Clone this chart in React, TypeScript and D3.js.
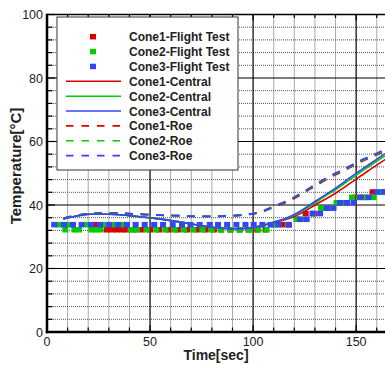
import React from 'react';
import * as d3 from 'd3';

const W = 385;
const H = 365;

// Axis domains and tick labels
const timeDomain = [0, 164];
const tempDomain = [0, 100];
const timeTickLabels = [0, 50, 100, 150];
const tempTickLabels = [0, 20, 40, 60, 80, 100];
const timeMinorStep = 10;
const tempMinorStep = 4;

// Flight test measurements (sec, °C)
const cone1Time = [23.3, 29, 31.5, 34, 36.5, 38.6, 42, 45.8, 50, 54.5, 59, 63.5, 68, 72.7, 77, 81, 84.5, 89, 93.5, 97.8, 102, 106, 110, 114, 117.4, 121.5, 125.5, 129.5, 133.5, 137.5, 141.5, 145.5, 149.5, 153.5, 158, 162.5];
const cone1Temp = [33.8, 32.2, 32.2, 32.2, 32.2, 32.2, 32.2, 32.2, 32.2, 32.2, 32.2, 32.2, 32.2, 32.2, 32.2, 32.2, 32.2, 32.2, 32.2, 32.2, 32.2, 32.2, 33.8, 33.8, 33.8, 35.5, 37.3, 37.3, 39.0, 39.0, 40.7, 40.7, 42.4, 42.4, 44.1, 44.1];

const cone2Time = [5.8, 8.9, 10.2, 13.3, 15.5, 19.5, 21.5, 23.7, 25.9, 28, 32.3, 36.6, 40.6, 43.6, 48.3, 53, 57.5, 62, 66.5, 71, 75.5, 80, 84.5, 89, 93.5, 98, 102.5, 106.5, 111, 117, 121, 125, 129, 133, 137, 140.5, 144, 148, 151.5, 155, 158.5, 162];
const cone2Temp = [33.8, 32.2, 33.8, 32.2, 32.2, 33.8, 32.2, 32.2, 32.2, 33.8, 33.8, 33.8, 32.2, 32.2, 32.2, 32.2, 32.2, 32.2, 32.2, 32.2, 32.2, 32.2, 32.2, 32.2, 32.2, 32.2, 32.2, 32.2, 33.8, 33.8, 35.5, 35.5, 37.3, 39.0, 39.0, 40.7, 40.7, 42.4, 42.4, 42.4, 42.4, 44.1];

const cone3Time = [3.5, 8.3, 12.6, 16.8, 21.4, 25.7, 30.1, 34.5, 38.8, 43, 47.4, 52, 56.3, 61, 65.5, 69.6, 74.1, 79, 83, 87.4, 91.9, 96.3, 100.3, 104.5, 108.5, 112.3, 117.2, 122.8, 126, 128.8, 132.5, 135.8, 139, 142.2, 145.5, 148.7, 152, 156, 160, 163.3];
const cone3Temp = [33.8, 33.8, 33.8, 33.8, 33.8, 33.8, 33.8, 33.8, 33.8, 33.8, 33.8, 33.8, 33.8, 33.8, 33.8, 33.8, 33.8, 33.8, 33.8, 33.8, 33.8, 33.8, 33.8, 33.8, 33.8, 33.8, 33.8, 35.5, 35.5, 37.3, 37.3, 39.0, 39.0, 40.7, 40.7, 40.7, 42.4, 42.4, 44.1, 44.1];

// Central scheme simulation
const centralTime = [8, 15, 21, 30, 38, 45, 53, 61, 68, 74, 80, 87, 93, 100, 105, 110, 115, 120, 125, 130, 135, 140, 147, 155, 164];
const cone1Central = [35.6, 36.6, 37.1, 37.1, 36.8, 36.3, 35.7, 35.0, 34.3, 33.6, 33.0, 32.6, 32.5, 32.9, 33.6, 34.5, 35.3, 36.4, 38.0, 40.0, 41.8, 43.7, 46.8, 50.4, 54.3];
const cone2Central = [35.6, 36.6, 37.1, 37.1, 36.8, 36.3, 35.7, 35.0, 34.3, 33.6, 33.0, 32.6, 32.5, 32.9, 33.6, 34.6, 35.5, 36.8, 38.6, 40.7, 42.8, 44.8, 48.0, 51.6, 55.5];
const cone3Central = [35.6, 36.6, 37.1, 37.1, 36.8, 36.3, 35.7, 35.0, 34.3, 33.6, 33.0, 32.6, 32.5, 32.9, 33.6, 34.6, 35.6, 37.0, 38.9, 41.1, 43.2, 45.3, 48.6, 52.2, 56.2];

// Roe scheme simulation
const roeTime = [8, 15, 25, 35, 45, 55, 65, 75, 85, 92, 97, 100, 105, 110, 118, 124, 131, 138, 145, 152, 160, 164];
const cone1Roe = [35.8, 36.8, 37.4, 37.4, 37.1, 36.8, 36.6, 36.4, 36.5, 36.7, 37.0, 37.2, 38.0, 39.3, 41.4, 43.6, 46.3, 48.9, 51.1, 53.5, 55.8, 57.0];
const cone2Roe = [35.8, 36.8, 37.4, 37.4, 37.1, 36.8, 36.6, 36.4, 36.5, 36.7, 37.0, 37.3, 38.1, 39.5, 41.7, 43.9, 46.6, 49.2, 51.4, 53.8, 56.1, 57.3];
const cone3Roe = [35.8, 36.8, 37.4, 37.4, 37.1, 36.8, 36.6, 36.4, 36.5, 36.7, 37.0, 37.3, 38.2, 39.6, 41.8, 44.0, 46.8, 49.4, 51.6, 54.0, 56.3, 57.5];

const RED = '#dd0000';
const GREEN = '#00cc00';
const BLUE = '#3344ff';

const legendItems = [
  { label: 'Cone1-Flight Test', color: RED, kind: 'marker' },
  { label: 'Cone2-Flight Test', color: GREEN, kind: 'marker' },
  { label: 'Cone3-Flight Test', color: BLUE, kind: 'marker' },
  { label: 'Cone1-Central', color: RED, kind: 'solid' },
  { label: 'Cone2-Central', color: GREEN, kind: 'solid' },
  { label: 'Cone3-Central', color: BLUE, kind: 'solid' },
  { label: 'Cone1-Roe', color: RED, kind: 'dash' },
  { label: 'Cone2-Roe', color: GREEN, kind: 'dash' },
  { label: 'Cone3-Roe', color: BLUE, kind: 'dash' },
];

const FONT = '"Liberation Sans", Arial, sans-serif';

export default function App() {
  const left = 47;
  const right = 385;
  const top = 14.5;
  const bottom = 332;

  const x = d3.scaleLinear().domain(timeDomain).range([left, right]);
  const y = d3.scaleLinear().domain(tempDomain).range([bottom, top]);

  const minorX = d3.range(timeDomain[0], timeDomain[1] + 0.001, timeMinorStep).filter((v) => v % 50 !== 0);
  const majorX = timeTickLabels.filter((v) => v > 0);
  const allY = d3.range(tempDomain[0], tempDomain[1] + 0.001, tempMinorStep);
  const minorY = allY.filter((v) => v % 20 !== 0);
  const majorY = tempTickLabels.filter((v) => v > 0 && v < 100);

  const line = (ts: number[], vs: number[]) =>
    d3.line<number>().x((_, i) => x(ts[i])).y((v) => y(v)).curve(d3.curveMonotoneX)(vs) || '';

  const markers = (ts: number[], vs: number[], color: string, key: string) =>
    ts.map((t, i) => (
      <rect key={key + i} x={x(t) - 3} y={y(vs[i]) - 2.75} width={6} height={5.5} fill={color} />
    ));

  const lgX = 57;
  const lgY = 17;
  const lgW = 181;
  const lgH = 153;
  const rowY0 = 36.7;
  const rowStep = 14.87;

  return (
    <svg width={W} height={H} style={{ position: 'absolute', left: 0, top: 0, background: '#fff' }}>
      <defs>
        <clipPath id="plotClip">
          <rect x={left} y={top} width={right - left} height={bottom - top} />
        </clipPath>
      </defs>

      {/* grid */}
      <g>
        {minorX.map((v) => (
          <line key={'mx' + v} x1={x(v)} x2={x(v)} y1={top} y2={bottom} stroke="#555" strokeWidth={1} strokeDasharray="1,1" />
        ))}
        {minorY.map((v) => (
          <line key={'my' + v} x1={left} x2={right} y1={y(v)} y2={y(v)} stroke="#555" strokeWidth={1} strokeDasharray="1,1" />
        ))}
        {majorX.map((v) => (
          <line key={'MX' + v} x1={x(v)} x2={x(v)} y1={top} y2={bottom} stroke="#000" strokeWidth={1.2} />
        ))}
        {majorY.map((v) => (
          <line key={'MY' + v} x1={left} x2={right} y1={y(v)} y2={y(v)} stroke="#000" strokeWidth={1.2} />
        ))}
      </g>

      {/* flight test data and simulations */}
      <g clipPath="url(#plotClip)">
        {markers(cone1Time, cone1Temp, RED, 'c1')}
        {markers(cone2Time, cone2Temp, GREEN, 'c2')}
        {markers(cone3Time, cone3Temp, BLUE, 'c3')}
        <path d={line(roeTime, cone1Roe)} fill="none" stroke={RED} strokeWidth={1.8} strokeDasharray="8,7.5" />
        <path d={line(roeTime, cone2Roe)} fill="none" stroke={GREEN} strokeWidth={1.8} strokeDasharray="8,7.5" />
        <path d={line(roeTime, cone3Roe)} fill="none" stroke={BLUE} strokeWidth={1.8} strokeDasharray="8,7.5" />
        <path d={line(centralTime, cone1Central)} fill="none" stroke={RED} strokeWidth={1.6} />
        <path d={line(centralTime, cone2Central)} fill="none" stroke={GREEN} strokeWidth={1.6} />
        <path d={line(centralTime, cone3Central)} fill="none" stroke={BLUE} strokeWidth={1.6} />
      </g>

      {/* frame and ticks */}
      <line x1={left} x2={right} y1={top} y2={top} stroke="#000" strokeWidth={1.5} />
      <line x1={left} x2={left} y1={top - 0.75} y2={bottom + 1.25} stroke="#000" strokeWidth={2.5} />
      <line x1={left - 1.25} x2={right} y1={bottom} y2={bottom} stroke="#000" strokeWidth={2.5} />
      {allY.map((v) => (
        <line key={'ty' + v} x1={left} x2={left + (v % 20 === 0 ? 8 : 5.5)} y1={y(v)} y2={y(v)} stroke="#000" strokeWidth={1.2} />
      ))}
      {d3.range(timeDomain[0], timeDomain[1], timeMinorStep).map((v) => (
        <g key={'tx' + v}>
          <line x1={x(v)} x2={x(v)} y1={bottom} y2={bottom - (v % 50 === 0 ? 7 : 4.5)} stroke="#000" strokeWidth={1.2} />
          <line x1={x(v)} x2={x(v)} y1={top} y2={top + (v % 50 === 0 ? 6 : 3.5)} stroke="#000" strokeWidth={1.2} />
        </g>
      ))}

      {/* tick labels */}
      {tempTickLabels.map((v) => (
        <text key={'ly' + v} x={43} y={y(v) + 4.5} textAnchor="end" fontFamily={FONT} fontSize={12.5} fill="#222">
          {v}
        </text>
      ))}
      {timeTickLabels.map((v) => (
        <text key={'lx' + v} x={x(v)} y={bottom + 14} textAnchor="middle" fontFamily={FONT} fontSize={12.5} fill="#222">
          {v}
        </text>
      ))}

      {/* axis titles */}
      <text x={(left + right) / 2} y={360} textAnchor="middle" fontFamily={FONT} fontSize={14} fontWeight="bold" fill="#222">
        Time[sec]
      </text>
      <text
        transform={`translate(21, ${166}) rotate(-90)`}
        textAnchor="middle"
        fontFamily={FONT}
        fontSize={15}
        fontWeight="bold"
        fill="#222"
      >
        Temperature[°C]
      </text>

      {/* legend */}
      <rect x={lgX} y={lgY} width={lgW} height={lgH} fill="#fff" stroke="#333" strokeWidth={1} />
      {legendItems.map((item, i) => {
        const cy = rowY0 + i * rowStep;
        return (
          <g key={item.label}>
            {item.kind === 'marker' ? (
              <rect x={90} y={cy - 2.75} width={6} height={5.5} fill={item.color} />
            ) : (
              <line
                x1={66}
                x2={121}
                y1={cy}
                y2={cy}
                stroke={item.color}
                strokeWidth={1.6}
                strokeDasharray={item.kind === 'dash' ? '7.5,8' : undefined}
              />
            )}
            <text x={129} y={cy + 4.5} fontFamily={FONT} fontSize={12} fontWeight="bold" fill="#222">
              {item.label}
            </text>
          </g>
        );
      })}
    </svg>
  );
}
